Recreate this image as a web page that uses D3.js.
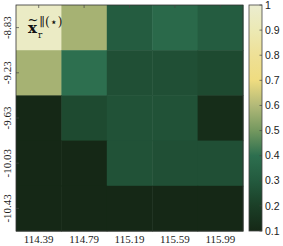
<!DOCTYPE html>
<html>
<head>
<meta charset="utf-8">
<script src="https://cdn.jsdelivr.net/npm/d3@7/dist/d3.min.js"></script>
<style>
  body { margin: 0; background: #fff; }
</style>
</head>
<body>
<div class="container"></div>
<script>
const w = 283
const h = 246

const xLabels = ["114.39", "114.79", "115.19", "115.59", "115.99"]
const yLabels = ["-8.83", "-9.23", "-9.63", "-10.03", "-10.43"]

// one row per y label, top to bottom
const values = [
  [0.96, 0.58, 0.31, 0.37, 0.31],
  [0.58, 0.40, 0.26, 0.26, 0.24],
  [0.10, 0.24, 0.27, 0.27, 0.12],
  [0.10, 0.10, 0.27, 0.26, 0.26],
  [0.10, 0.10, 0.10, 0.10, 0.10]
]

const cbTicks = [0.1, 0.2, 0.3, 0.4, 0.5, 0.6, 0.7, 0.8, 0.9, 1]
const cmStops = [0.1, 0.2, 0.3, 0.4, 0.5, 0.6, 0.7, 0.8, 0.9, 1]
const cmColors = ["#152816", "#1b3f27", "#235a3e", "#2d6f4f", "#74985f", "#b2b978",
                  "#efdc80", "#eee096", "#ece9b4", "#ebedd0"]

const cells = []
values.forEach((row, i) => row.forEach((v, j) => cells.push({ x: xLabels[j], y: yLabels[i], v })))

const mLeft = 16, mRight = 243, mTop = 5, mBottom = 231

const svg = d3.select(".container")
              .append("svg")
              .attr("width", w)
              .attr("height", h)

const xScale = d3.scaleBand().domain(xLabels).range([mLeft, mRight])
const yScale = d3.scaleBand().domain(yLabels).range([mTop, mBottom])
const color = d3.scaleLinear().domain(cmStops).range(cmColors).interpolate(d3.interpolateRgb)

svg.selectAll("rect.cell")
    .data(cells)
    .enter()
    .append("rect")
      .attr("class", "cell")
      .attr("x", d => xScale(d.x))
      .attr("y", d => yScale(d.y))
      .attr("width", xScale.bandwidth() + 0.5)
      .attr("height", yScale.bandwidth() + 0.5)
      .attr("fill", d => color(d.v))

// frame
svg.append("rect")
    .attr("x", mLeft).attr("y", mTop)
    .attr("width", mRight - mLeft).attr("height", mBottom - mTop)
    .attr("fill", "none").attr("stroke", "#333").attr("stroke-width", 0.8)

// inward ticks on top and left
const tickLen = 3
svg.selectAll("line.xt")
    .data(xLabels)
    .enter()
    .append("line")
      .attr("x1", d => xScale(d) + xScale.bandwidth() / 2)
      .attr("x2", d => xScale(d) + xScale.bandwidth() / 2)
      .attr("y1", mTop).attr("y2", mTop + tickLen)
      .attr("stroke", "#444").attr("stroke-width", 0.7)
svg.selectAll("line.yt")
    .data(yLabels)
    .enter()
    .append("line")
      .attr("y1", d => yScale(d) + yScale.bandwidth() / 2)
      .attr("y2", d => yScale(d) + yScale.bandwidth() / 2)
      .attr("x1", mLeft).attr("x2", mLeft + tickLen)
      .attr("stroke", "#444").attr("stroke-width", 0.7)

svg.selectAll("text.xl")
    .data(xLabels)
    .enter()
    .append("text")
      .attr("x", d => xScale(d) + xScale.bandwidth() / 2)
      .attr("y", 243)
      .attr("text-anchor", "middle")
      .style("font-family", "'Liberation Serif', serif")
      .style("font-size", "11px")
      .attr("fill", "#222")
      .text(d => d)

svg.selectAll("text.yl")
    .data(yLabels)
    .enter()
    .append("text")
      .attr("transform", d => `translate(11, ${yScale(d) + yScale.bandwidth() / 2}) rotate(-90)`)
      .attr("text-anchor", "middle")
      .style("font-family", "'Liberation Serif', serif")
      .style("font-size", "11px")
      .attr("fill", "#222")
      .text(d => d)

// annotation in the top-left cell
const ann = svg.append("g").style("font-family", "'DejaVu Serif', serif").attr("fill", "#111")
ann.append("text").attr("x", 33).attr("y", 23.5).attr("text-anchor", "middle")
    .style("font-size", "13px").text("~")
ann.append("text").attr("x", 28).attr("y", 33)
    .style("font-size", "15px").style("font-weight", "bold").text("x")
ann.append("text").attr("x", 38).attr("y", 38)
    .style("font-size", "9px").text("r")
ann.append("text").attr("x", 39.5).attr("y", 25.5)
    .style("font-size", "12px").text("∥(⋆)")

// colorbar
const cbX = 249, cbW = 13
const cbScale = d3.scaleLinear().domain([0.1, 1]).range([mBottom, mTop])
const grad = svg.append("defs").append("linearGradient")
    .attr("id", "cbgrad").attr("x1", 0).attr("x2", 0).attr("y1", 1).attr("y2", 0)
grad.selectAll("stop")
    .data(cmStops)
    .enter()
    .append("stop")
      .attr("offset", d => (d - 0.1) / 0.9)
      .attr("stop-color", d => color(d))
svg.append("rect")
    .attr("x", cbX).attr("y", mTop).attr("width", cbW).attr("height", mBottom - mTop)
    .attr("fill", "url(#cbgrad)").attr("stroke", "#444").attr("stroke-width", 0.8)

svg.selectAll("line.ct")
    .data(cbTicks)
    .enter()
    .append("line")
      .attr("x1", cbX + cbW - 2.5).attr("x2", cbX + cbW)
      .attr("y1", d => cbScale(d)).attr("y2", d => cbScale(d))
      .attr("stroke", "#444").attr("stroke-width", 0.7)

svg.selectAll("text.cl")
    .data(cbTicks)
    .enter()
    .append("text")
      .attr("x", cbX + cbW + 3)
      .attr("y", d => cbScale(d))
      .attr("dy", "0.35em")
      .style("font-family", "'Liberation Sans', Arial, sans-serif")
      .style("font-size", "10.5px")
      .attr("fill", "#222")
      .text(d => d)
</script>
</body>
</html>
